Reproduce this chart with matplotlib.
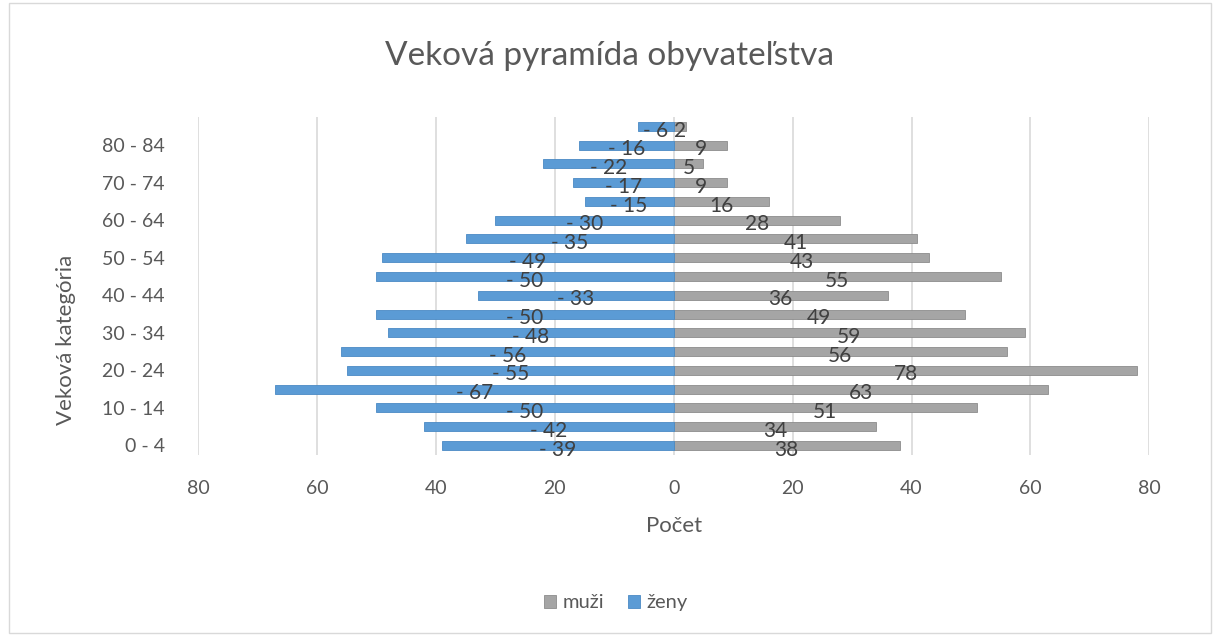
import matplotlib
matplotlib.use("Agg")
import matplotlib.pyplot as plt
from matplotlib.patches import Rectangle

plt.rcParams['font.family'] = ['Lato', 'DejaVu Sans']

# age groups, bottom to top
categories = ["0 - 4", "5 - 9", "10 - 14", "15 - 19", "20 - 24", "25 - 29",
              "30 - 34", "35 - 39", "40 - 44", "45 - 49", "50 - 54", "55 - 59",
              "60 - 64", "65 - 69", "70 - 74", "75 - 79", "80 - 84", "85+"]
muzi = [38, 34, 51, 63, 78, 56, 59, 49, 36, 55, 43, 41, 28, 16, 9, 5, 9, 2]
zeny = [39, 42, 50, 67, 55, 56, 48, 50, 33, 50, 49, 35, 30, 15, 17, 22, 16, 6]
xticks = [-80, -60, -40, -20, 0, 20, 40, 60, 80]

blue = "#5B9BD5"
gray = "#A5A5A5"
txt = "#595959"

fig = plt.figure(figsize=(12.15, 6.36), dpi=100)
ax = fig.add_axes([0.163, 0.285, 0.783, 0.531])

y = list(range(len(categories)))
h = 0.48
neg = [-v for v in zeny]
ax.barh(y, muzi, height=h, color=gray, edgecolor="#8C8C8C", linewidth=0.6, label="muži", zorder=3)
ax.barh(y, neg, height=h, color=blue, edgecolor="#4A8AC4", linewidth=0.6, label="ženy", zorder=3)

for i in y:
    ax.annotate(str(muzi[i]), (muzi[i] / 2, i), xytext=(0, -3), textcoords="offset points",
                ha="center", va="center", fontsize=15, color="#404040", zorder=4)
    ax.annotate("- " + str(zeny[i]), (neg[i] / 2, i), xytext=(0, -3), textcoords="offset points",
                ha="center", va="center", fontsize=15, color="#404040", zorder=4)

ax.set_xlim(-80, 80)
ax.set_ylim(-0.5, len(categories) - 0.5)
ax.set_xticks(xticks)
ax.set_xticklabels([str(abs(v)) for v in xticks])
ax.set_yticks(y[::2])
ax.set_yticklabels(categories[::2])
ax.tick_params(axis="both", length=0, labelsize=14, colors=txt)
ax.tick_params(axis="x", pad=18)
ax.tick_params(axis="y", pad=24)
ax.grid(axis="x", color="#D9D9D9", linewidth=1.2, zorder=0)
for s in ax.spines.values():
    s.set_visible(False)

ax.set_xlabel("Počet", fontsize=16, color=txt, labelpad=14)
ax.set_ylabel("Veková kategória", fontsize=16, color=txt)
ax.yaxis.set_label_coords(-0.128, 0.34)
fig.text(0.502, 0.912, "Veková pyramída obyvateľstva", ha="center", va="center",
         fontsize=24, color=txt)

ax.legend(loc="center", bbox_to_anchor=(0.507, 0.052), bbox_transform=fig.transFigure,
          ncol=2, frameon=False, fontsize=14.5, labelcolor=txt, handlelength=0.6,
          handleheight=0.6, handletextpad=0.3, columnspacing=1.2)

fig.patches.append(Rectangle((0.007, 0.005), 0.99, 0.99, transform=fig.transFigure,
                             fill=False, edgecolor="#D9D9D9", linewidth=1))

fig.savefig("out.png", dpi=100)
